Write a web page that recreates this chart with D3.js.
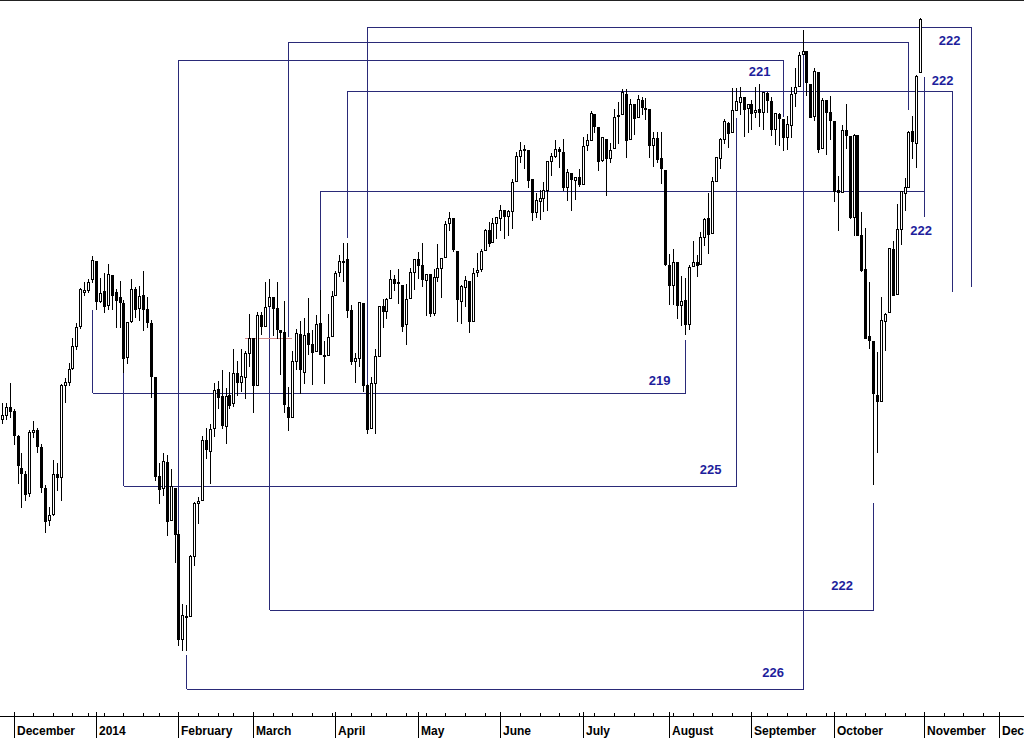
<!DOCTYPE html>
<meta charset="utf-8">
<style>
  html, body { margin: 0; padding: 0; background: #fff; }
  svg { display: block; }
  text { font-family: "Liberation Sans", Arial, sans-serif; }
  .month { font-size: 12px; font-weight: bold; fill: #000; }
  .cycle { font-size: 13px; font-weight: bold; fill: #1e1e9c; }
  line, rect { shape-rendering: crispEdges; }
</style>
<body>
<div id="chart"></div>
<script src="https://cdn.jsdelivr.net/npm/d3@7"></script>
<script>

// daily bars, 26 Nov 2013 .. 31 Oct 2014 (index = trading day)
var opens = [
  16060,16073,16098,16086,16005,15905,15885,15825,16019,16025,
  15970,15840,15740,15760,15885,15875,16168,16180,16225,16295,
  16360,16470,16478,16512,16572,16443,16474,16429,16527,16471,
  16453,16434,16260,16377,16480,16418,16460,16417,16371,16194,
  15879,15840,15922,15740,15841,15697,15372,15443,15443,15630,
  15793,15803,15993,15959,16030,16155,16135,16037,16136,16110,
  16207,16179,16194,16273,16321,16170,16395,16361,16424,16453,
  16419,16348,16340,16099,16068,16245,16335,16212,16336,16302,
  16280,16371,16267,16266,16326,16460,16535,16574,16578,16412,
  16245,16256,16434,16170,16030,16176,16264,16424,16408,16451,
  16513,16504,16495,16366,16451,16535,16580,16560,16510,16529,
  16403,16520,16551,16585,16697,16714,16607,16443,16487,16507,
  16377,16537,16545,16608,16675,16636,16700,16716,16741,16722,
  16738,16837,16922,16943,16942,16844,16735,16773,16781,16807,
  16907,16922,16946,16935,16818,16867,16843,16851,16828,16958,
  16977,17064,17021,16909,16980,16917,16948,17058,17063,17134,
  16980,17097,17056,17113,17085,17081,16960,16983,16916,16876,
  16561,16494,16569,16429,16445,16366,16557,16568,16563,16652,
  16714,16666,16839,16915,16979,17035,17002,17079,17106,17121,
  17085,17097,17070,17082,17073,17136,17110,17013,17064,17047,
  16987,17026,17135,17160,17268,17279,17167,17057,17206,16948,
  17112,17072,17041,16808,16802,17010,16991,16718,16993,16660,
  16545,16326,16312,16138,16119,16375,16405,16613,16464,16680,
  16800,16820,17007,16966,17209
];
var highs = [
  16111,16110,16174,16092,16010,15952,15895,16025,16055,16032,
  15980,15850,15782,15930,15920,16171,16192,16240,16320,16370,
  16485,16505,16515,16588,16574,16518,16532,16562,16528,16482,
  16507,16445,16374,16514,16486,16490,16541,16455,16380,16194,
  15920,15951,15945,15900,15841,15708,15481,15478,15632,15798,
  15812,16005,16030,16043,16175,16183,16218,16160,16212,16285,
  16245,16286,16278,16398,16321,16406,16406,16505,16512,16453,
  16505,16348,16443,16164,16279,16349,16375,16386,16451,16347,
  16397,16477,16310,16400,16474,16539,16594,16631,16631,16428,
  16273,16437,16435,16173,16196,16285,16424,16448,16450,16543,
  16526,16545,16495,16496,16551,16581,16603,16632,16531,16529,
  16545,16630,16584,16705,16736,16715,16607,16494,16524,16507,
  16549,16599,16613,16677,16702,16715,16720,16760,16741,16741,
  16845,16935,16970,16960,16942,16846,16800,16807,16836,16907,
  16932,16978,16953,16981,16880,16867,16851,16880,16988,16996,
  17074,17064,17021,16988,16980,16968,17081,17106,17151,17149,
  17115,17097,17129,17123,17120,17081,17002,17004,17003,16876,
  16595,16614,16569,16525,16517,16560,16640,16591,16669,16715,
  16797,16853,16920,16982,17049,17036,17154,17153,17155,17121,
  17099,17112,17156,17165,17139,17138,17121,17068,17068,17047,
  17058,17156,17220,17275,17351,17280,17167,17222,17206,17120,
  17112,17125,17041,16857,17027,17099,16991,16997,16993,16735,
  16681,16505,16312,16276,16454,16403,16616,16640,16762,16806,
  16849,17007,17057,17196,17395
];
var lows = [
  16048,16060,16068,15980,15858,15782,15805,15815,16003,15956,
  15830,15703,15725,15755,15836,15805,16115,16170,16220,16285,
  16355,16462,16470,16505,16414,16439,16405,16416,16416,16358,
  16357,16211,16240,16374,16388,16381,16347,16357,16131,15866,
  15795,15820,15694,15740,15611,15354,15339,15340,15443,15600,
  15731,15803,15937,15857,16007,16096,16033,15985,16095,16103,
  16138,16151,16127,16230,16083,16170,16334,16361,16424,16330,
  16321,16204,16082,16024,16068,16221,16143,16175,16269,16171,
  16280,16268,16175,16266,16326,16460,16525,16506,16389,16236,
  16180,16230,16150,16015,16030,16016,16264,16358,16385,16451,
  16478,16436,16344,16303,16451,16481,16517,16492,16395,16392,
  16395,16506,16456,16585,16674,16605,16376,16369,16425,16340,
  16377,16525,16540,16608,16623,16636,16648,16675,16650,16660,
  16681,16837,16904,16883,16817,16708,16718,16711,16737,16742,
  16858,16920,16884,16807,16775,16741,16779,16822,16828,16943,
  16977,17004,16877,16906,16793,16904,16948,16965,17063,16920,
  16980,16998,17056,17066,17049,16920,16890,16904,16831,16560,
  16433,16433,16387,16362,16333,16350,16557,16525,16563,16625,
  16600,16666,16839,16883,16966,16953,17002,17079,17065,16989,
  17003,17015,17054,17025,17012,17073,16994,16962,16961,16942,
  16945,16988,17091,17160,17268,17130,17053,17045,16937,16948,
  16928,16980,16771,16674,16802,16951,16716,16659,16658,16540,
  16321,16287,15855,15955,16119,16282,16405,16461,16464,16630,
  16742,16820,16915,16885,17209
];
var closes = [
  16073,16097,16086,16009,15915,15890,15822,16020,16026,15973,
  15844,15739,15755,15885,15875,16168,16179,16221,16295,16358,
  16480,16478,16504,16577,16441,16469,16425,16530,16462,16444,
  16437,16257,16373,16481,16417,16458,16414,16373,16197,15879,
  15838,15928,15738,15848,15698,15372,15445,15440,15628,15794,
  15801,15994,15964,16027,16154,16130,16040,16133,16104,16207,
  16179,16198,16272,16322,16168,16396,16360,16422,16453,16418,
  16351,16340,16108,16065,16247,16337,16222,16331,16303,16276,
  16368,16268,16264,16323,16458,16533,16573,16573,16413,16246,
  16256,16437,16170,16027,16174,16263,16424,16409,16449,16514,
  16502,16502,16361,16448,16535,16581,16559,16513,16531,16402,
  16519,16551,16584,16696,16715,16613,16447,16491,16511,16375,
  16533,16543,16607,16676,16633,16699,16717,16743,16723,16737,
  16836,16924,16943,16945,16843,16734,16776,16781,16808,16906,
  16921,16947,16938,16819,16868,16846,16851,16827,16956,16976,
  17068,17024,16906,16985,16915,16944,17055,17061,17139,16977,
  17100,17052,17114,17087,17083,16961,16983,16912,16881,16563,
  16493,16569,16430,16443,16368,16554,16570,16561,16652,16713,
  16663,16839,16920,16980,17040,17001,17077,17107,17123,17080,
  17098,17068,17079,17070,17138,17112,17014,17068,17050,16987,
  17031,17131,17157,17266,17280,17173,17056,17210,16946,17113,
  17071,17043,16805,16801,17009,16992,16719,16994,16659,16544,
  16321,16316,16142,16118,16380,16400,16615,16462,16677,16805,
  16818,17005,16974,17195,17391
];

// time axis: first trading day of each month, and of each week
var monthNames = ["December", "2014", "February", "March", "April", "May", "June",
                  "July", "August", "September", "October", "November", "December"];
var monthStarts = [3, 24, 45, 64, 85, 106, 127, 148, 170, 191, 212, 235, 254];
var weekStarts = [3, 8, 13, 18, 22, 26, 31, 36, 40, 45, 50, 55, 59, 64, 69, 74, 79, 84,
                  89, 94, 98, 103, 108, 113, 118, 123, 127, 132, 137, 142, 147, 151, 156,
                  161, 166, 171, 176, 181, 186, 191, 195, 200, 205, 210, 215, 220, 225,
                  230, 235, 240, 245, 250, 254];

// cycle brackets: [startDay, startLo, startHi, endDay, endLo, endHi, level]
var brackets = [
  [23, 16145, 16413, 174, 16145, 16315, 16145],
  [31, 15847, 16211, 187, 15847, 17051, 15847],
  [68, 15462, 16501, 222, 15462, 15795, 15462],
  [47, 15222, 15324, 204, 15222, 17345, 15222],
  [45, 15708, 17250, 199, 17054, 17250, 17250],
  [93, 16030, 17362, 247, 16488, 17362, 17362],
  [73, 16324, 17310, 231, 17078, 17310, 17310],
  [88, 16649, 17143, 242, 16471, 17143, 17143],
  [81, 16461, 16804, 235, 16719, 17191, 16804]
];
var cycleLabels = ["219", "225", "222", "226", "221", "222", "222", "222"];
var cycleLabelDay = [167.6, 180.6, 214.1, 196.5, 193.1, 241.5, 239.7, 234.2];
var cycleLabelLevel = [16169, 15886, 15524, 15256, 17195, 17299, 17164, 16659];

// short red marker: [fromDay, toDay, level]
var redMark = [62, 74, 16322];

var width = 1024,
    height = 738,
    axisY = 716;

var x = d3.scaleLinear().domain([0, 254]).range([1.8, 998.75]),
    y = d3.scaleLog().domain([15372, 17390]).range([639.2, 19]);

function px(i) { return Math.round(x(i)); }
function py(v) { return Math.round(y(v)); }

var svg = d3.select("#chart").append("svg")
    .attr("width", width)
    .attr("height", height);

svg.append("rect").attr("width", width).attr("height", height).attr("fill", "#fff");

svg.append("line")
    .attr("x1", 0).attr("x2", width)
    .attr("y1", 0.5).attr("y2", 0.5)
    .attr("stroke", "#222");

// brackets (under the bars)
var bg = svg.append("g").attr("stroke", "#2a2a78").attr("stroke-width", 1);
brackets.forEach(function(b) {
  var xa = px(b[0]) + 0.5, xb = px(b[3]) + 0.5, ly = py(b[6]) + 0.5;
  bg.append("line").attr("x1", xa).attr("x2", xb).attr("y1", ly).attr("y2", ly);
  bg.append("line").attr("x1", xa).attr("x2", xa).attr("y1", py(b[1])).attr("y2", py(b[2]));
  bg.append("line").attr("x1", xb).attr("x2", xb).attr("y1", py(b[4])).attr("y2", py(b[5]));
});

svg.append("line")
    .attr("x1", px(redMark[0])).attr("x2", px(redMark[1]))
    .attr("y1", py(redMark[2]) + 0.5).attr("y2", py(redMark[2]) + 0.5)
    .attr("stroke", "#d48a8a");

// candles
var bars = d3.range(opens.length).map(function(i) {
  return {i: i, o: opens[i], h: highs[i], l: lows[i], c: closes[i]};
});

var cg = svg.append("g").selectAll("g")
    .data(bars)
  .enter().append("g");

cg.append("line")
    .attr("x1", function(d) { return px(d.i) + 0.5; })
    .attr("x2", function(d) { return px(d.i) + 0.5; })
    .attr("y1", function(d) { return py(d.h); })
    .attr("y2", function(d) { return py(d.l) + 1; })
    .attr("stroke", "#000");

cg.append("rect")
    .attr("x", function(d) { return px(d.i) - 0.5; })
    .attr("width", 2)
    .attr("y", function(d) { return py(Math.max(d.o, d.c)) + 0.5; })
    .attr("height", function(d) {
      return Math.max(1, py(Math.min(d.o, d.c)) - py(Math.max(d.o, d.c)));
    })
    .attr("fill", function(d) { return d.c >= d.o ? "#fff" : "#000"; })
    .attr("stroke", "#000");

// cycle counts
svg.append("g").selectAll("text")
    .data(cycleLabels)
  .enter().append("text")
    .attr("class", "cycle")
    .attr("text-anchor", "middle")
    .attr("x", function(d, i) { return x(cycleLabelDay[i]); })
    .attr("y", function(d, i) { return y(cycleLabelLevel[i]); })
    .text(function(d) { return d; });

// time axis
var ax = svg.append("g");
ax.append("line")
    .attr("x1", 0).attr("x2", width)
    .attr("y1", axisY + 0.5).attr("y2", axisY + 0.5)
    .attr("stroke", "#000");

ax.selectAll("line.week")
    .data(weekStarts)
  .enter().append("line")
    .attr("class", "week")
    .attr("x1", function(d) { return px(d) + 0.5; })
    .attr("x2", function(d) { return px(d) + 0.5; })
    .attr("y1", axisY - 3).attr("y2", axisY + 1)
    .attr("stroke", "#000");

ax.selectAll("line.month")
    .data(monthStarts)
  .enter().append("line")
    .attr("class", "month")
    .attr("x1", function(d) { return px(d) + 0.5; })
    .attr("x2", function(d) { return px(d) + 0.5; })
    .attr("y1", axisY - 4).attr("y2", height)
    .attr("stroke", "#000");

ax.selectAll("text")
    .data(monthNames)
  .enter().append("text")
    .attr("class", "month")
    .attr("x", function(d, i) { return px(monthStarts[i]) + 3; })
    .attr("y", 735)
    .text(function(d) { return d; });

</script>
</body>
